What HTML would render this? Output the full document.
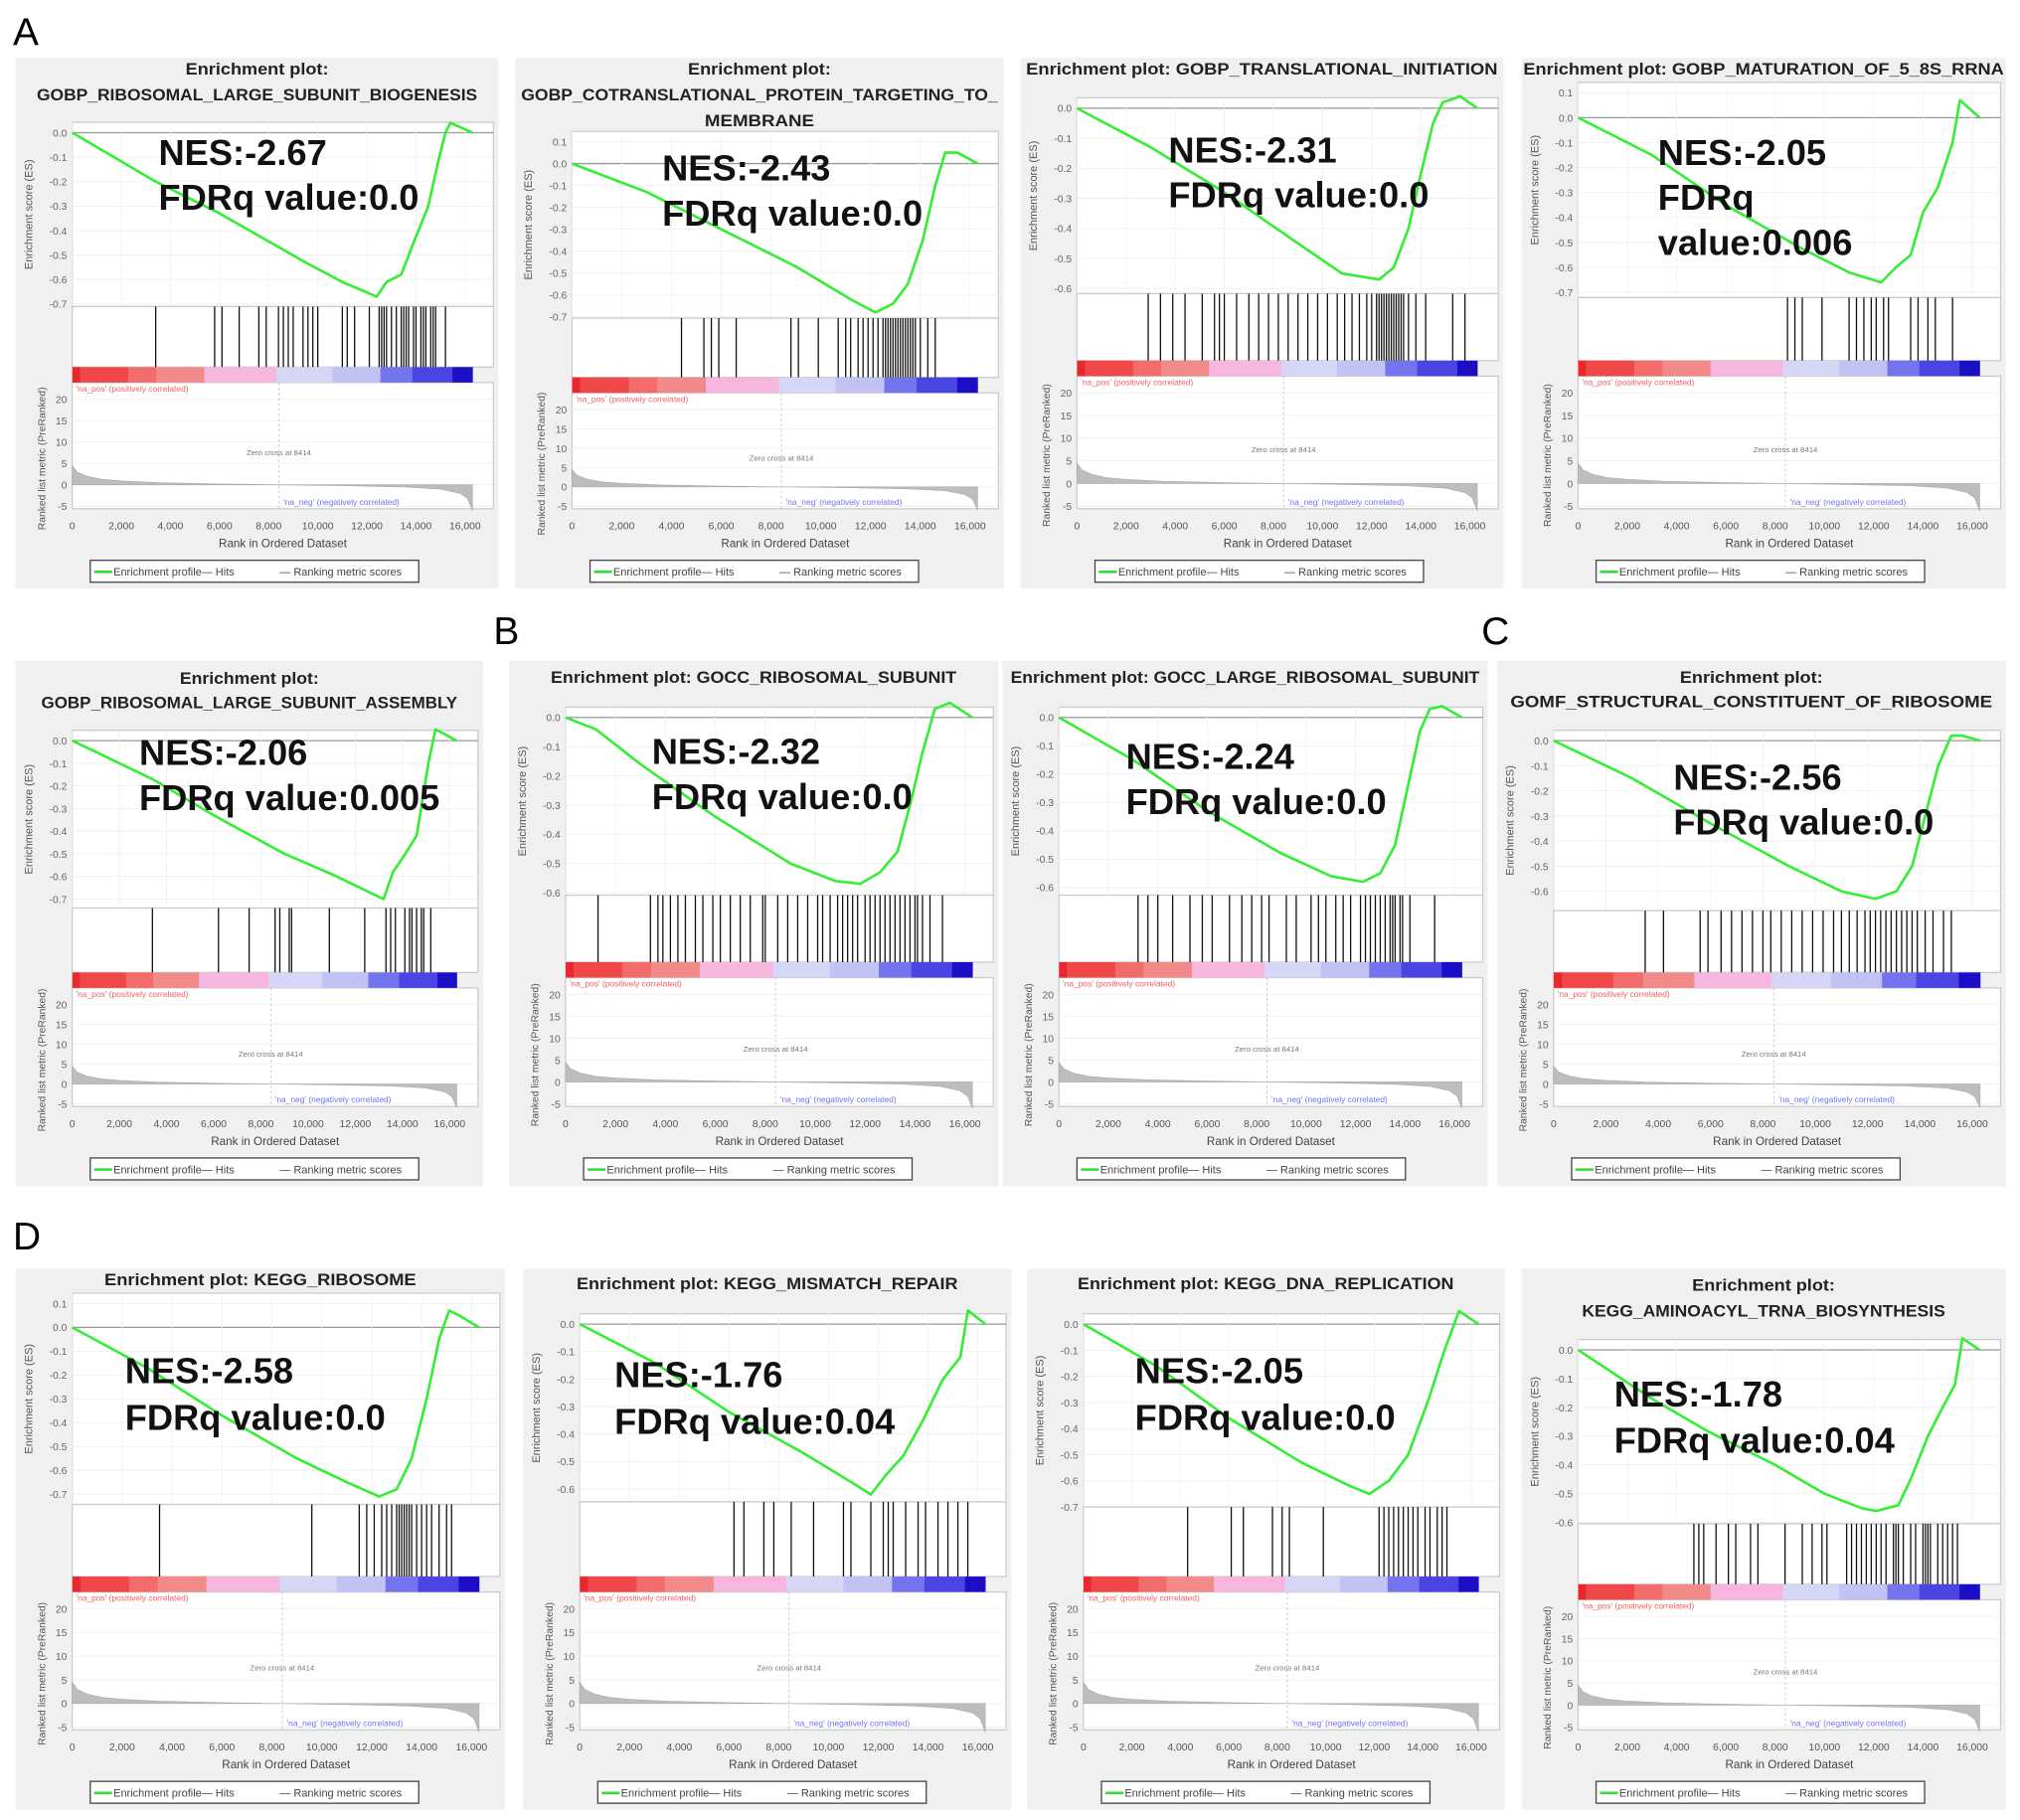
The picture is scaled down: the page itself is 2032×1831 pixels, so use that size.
<!DOCTYPE html>
<html><head><meta charset="utf-8">
<style>
html,body{margin:0;padding:0;background:#fff;}
svg{display:block;}
text{font-family:"Liberation Sans",sans-serif;}
</style></head>
<body>
<svg id="fig" width="2032" height="1831" viewBox="0 0 1568 1413" xmlns="http://www.w3.org/2000/svg">
<rect x="0" y="0" width="1568" height="1413" fill="#fff"/>
<text x="10" y="35" font-size="30">A</text>
<text x="383" y="500" font-size="30">B</text>
<text x="1150" y="500" font-size="30">C</text>
<text x="10" y="970" font-size="30">D</text>
</svg>
<script>
// ---- data ----
const titles = [
 ["Enrichment plot:","GOBP_RIBOSOMAL_LARGE_SUBUNIT_BIOGENESIS"],
 ["Enrichment plot:","GOBP_COTRANSLATIONAL_PROTEIN_TARGETING_TO_","MEMBRANE"],
 ["Enrichment plot: GOBP_TRANSLATIONAL_INITIATION"],
 ["Enrichment plot: GOBP_MATURATION_OF_5_8S_RRNA"],
 ["Enrichment plot:","GOBP_RIBOSOMAL_LARGE_SUBUNIT_ASSEMBLY"],
 ["Enrichment plot: GOCC_RIBOSOMAL_SUBUNIT"],
 ["Enrichment plot: GOCC_LARGE_RIBOSOMAL_SUBUNIT"],
 ["Enrichment plot:","GOMF_STRUCTURAL_CONSTITUENT_OF_RIBOSOME"],
 ["Enrichment plot: KEGG_RIBOSOME"],
 ["Enrichment plot: KEGG_MISMATCH_REPAIR"],
 ["Enrichment plot: KEGG_DNA_REPLICATION"],
 ["Enrichment plot:","KEGG_AMINOACYL_TRNA_BIOSYNTHESIS"]
];
const nesLines = [
 ["NES:-2.67","FDRq value:0.0"],
 ["NES:-2.43","FDRq value:0.0"],
 ["NES:-2.31","FDRq value:0.0"],
 ["NES:-2.05","FDRq","value:0.006"],
 ["NES:-2.06","FDRq value:0.005"],
 ["NES:-2.32","FDRq value:0.0"],
 ["NES:-2.24","FDRq value:0.0"],
 ["NES:-2.56","FDRq value:0.0"],
 ["NES:-2.58","FDRq value:0.0"],
 ["NES:-1.76","FDRq value:0.04"],
 ["NES:-2.05","FDRq value:0.0"],
 ["NES:-1.78","FDRq value:0.04"]
];
// ES curves: [rank (thousands), ES]
const esCurves = [
 [[0,0],[3.4,-0.2],[6,-0.33],[9.5,-0.53],[11,-0.61],[12.4,-0.67],[12.8,-0.61],[13.4,-0.58],[13.9,-0.45],[14.5,-0.3],[14.9,-0.12],[15.2,0],[15.4,0.04],[16.3,0]],
 [[0,0],[3,-0.13],[6,-0.3],[9,-0.47],[11.2,-0.62],[12.2,-0.68],[12.9,-0.64],[13.5,-0.55],[14.1,-0.35],[14.6,-0.1],[15.0,0.05],[15.5,0.05],[16.3,0]],
 [[0,0],[3,-0.13],[6,-0.28],[9,-0.45],[10.8,-0.55],[12.3,-0.57],[12.9,-0.53],[13.5,-0.4],[14.0,-0.22],[14.5,-0.05],[14.9,0.02],[15.3,0.03],[15.6,0.04],[16.3,0]],
 [[0,0],[3,-0.15],[6,-0.35],[9,-0.52],[11,-0.62],[12.3,-0.66],[12.9,-0.6],[13.5,-0.55],[14,-0.38],[14.6,-0.28],[15.2,-0.1],[15.5,0.07],[16.3,0]],
 [[0,0],[3.4,-0.17],[6,-0.33],[9,-0.5],[11,-0.59],[12.4,-0.66],[13.2,-0.7],[13.6,-0.58],[14,-0.52],[14.6,-0.42],[15.1,-0.1],[15.4,0.05],[16.3,0]],
 [[0,0],[1.2,-0.04],[3,-0.16],[6,-0.34],[9,-0.5],[10.8,-0.56],[11.8,-0.57],[12.6,-0.53],[13.3,-0.46],[13.8,-0.3],[14.3,-0.12],[14.8,0.03],[15.4,0.05],[16.3,0]],
 [[0,0],[3,-0.15],[6,-0.33],[9,-0.48],[11,-0.56],[12.3,-0.58],[13,-0.55],[13.6,-0.45],[14.1,-0.25],[14.6,-0.05],[15.0,0.03],[15.5,0.04],[16.3,0]],
 [[0,0],[3,-0.15],[6,-0.33],[9,-0.5],[11,-0.6],[12.3,-0.63],[13.1,-0.6],[13.7,-0.5],[14.2,-0.3],[14.7,-0.1],[15.2,0.02],[15.6,0.02],[16.3,0]],
 [[0,0],[3,-0.17],[6,-0.37],[9,-0.55],[11,-0.65],[12.3,-0.71],[13,-0.68],[13.6,-0.55],[14.2,-0.3],[14.7,-0.05],[15.1,0.07],[15.5,0.05],[16.3,0]],
 [[0,0],[3,-0.14],[6,-0.32],[9,-0.47],[11,-0.58],[11.7,-0.62],[12.3,-0.55],[13,-0.48],[13.8,-0.35],[14.6,-0.2],[15.3,-0.12],[15.6,0.05],[16.3,0]],
 [[0,0],[3,-0.16],[6,-0.36],[9,-0.53],[11,-0.62],[11.8,-0.65],[12.6,-0.6],[13.4,-0.5],[14.2,-0.3],[14.9,-0.1],[15.5,0.05],[16.3,0]],
 [[0,0],[3,-0.17],[5.2,-0.28],[8,-0.4],[10,-0.5],[11.5,-0.55],[12.1,-0.56],[13,-0.54],[13.5,-0.45],[14.2,-0.3],[14.8,-0.2],[15.3,-0.12],[15.6,0.04],[16.3,0]]
];
// hit positions (thousands of ranks)
const hitRanks = [
 [3.4,5.8,6.1,6.8,7.6,7.9,8.4,8.6,8.8,9.0,9.4,9.6,9.8,10.0,11.0,11.2,11.5,12.1,12.5,12.6,12.7,12.8,13.0,13.2,13.4,13.5,13.6,13.7,13.9,14.0,14.2,14.3,14.4,14.6,14.7,14.8,15.2],
 [4.4,5.3,5.6,5.9,6.6,8.8,9.1,9.9,10.7,11.0,11.2,11.5,11.7,11.9,12.1,12.3,12.5,12.6,12.7,12.8,12.9,13.0,13.1,13.2,13.3,13.4,13.5,13.6,13.7,13.8,14.0,14.3,14.6],
 [2.9,3.4,3.9,4.4,5.1,5.6,5.8,6.0,6.5,7.0,7.4,7.8,8.2,8.6,9.0,9.4,9.8,10.2,10.6,10.9,11.2,11.5,11.8,12.0,12.2,12.3,12.4,12.5,12.6,12.7,12.8,12.9,13.0,13.1,13.2,13.3,13.5,13.8,14.2,15.3,15.8],
 [8.5,8.8,9.1,9.9,11.0,11.3,11.6,11.9,12.1,12.4,12.6,13.5,13.8,14.2,14.5,15.2],
 [3.4,6.2,7.5,8.6,8.8,9.2,9.3,10.9,12.4,13.3,13.5,13.7,14.1,14.3,14.4,14.6,14.8,14.9,15.2],
 [1.3,3.4,3.7,3.9,4.2,4.5,4.8,5.2,5.5,5.9,6.2,6.6,7.0,7.4,7.9,8.0,8.5,8.9,9.3,9.7,10.1,10.3,10.6,10.9,11.1,11.3,11.5,11.7,12.0,12.2,12.4,12.6,12.8,13.0,13.2,13.4,13.6,13.8,14.0,14.1,14.3,14.6,15.1],
 [3.2,3.6,4.0,4.6,5.3,5.8,6.2,6.9,7.4,7.8,8.2,8.5,9.2,9.6,10.2,10.5,10.8,11.2,11.5,11.8,12.2,12.4,12.6,12.8,13.0,13.2,13.4,13.5,13.6,13.8,13.9,14.2,15.2],
 [3.5,4.2,5.6,5.9,6.4,6.8,7.2,7.6,8.0,8.3,8.7,9.1,9.5,9.9,10.3,10.7,11.0,11.3,11.6,11.9,12.1,12.3,12.5,12.7,12.9,13.1,13.3,13.5,13.7,13.9,14.2,14.5,14.9,15.2],
 [3.5,9.6,11.5,11.8,12.1,12.4,12.6,12.8,13.0,13.1,13.2,13.3,13.4,13.5,13.6,13.8,14.0,14.2,14.4,14.7,15.0,15.2],
 [6.2,6.6,7.4,7.8,8.5,9.4,10.6,10.9,11.7,12.2,12.4,12.6,13.1,13.6,13.9,14.4,14.8,15.2,15.6],
 [4.3,6.1,6.6,7.8,8.2,8.5,9.9,12.2,12.4,12.6,12.8,13.0,13.2,13.4,13.6,13.8,14.1,14.3,14.6,14.8,15.0],
 [4.7,4.9,5.1,5.6,6.1,6.4,7.0,7.3,8.4,9.1,9.5,9.9,10.1,10.9,11.1,11.3,11.5,11.7,11.9,12.1,12.3,12.5,12.8,12.9,13.0,13.2,13.5,13.7,14.0,14.1,14.2,14.3,14.6,14.8,15.0,15.2,15.4]
];
const metricRanks = [0,0.2,0.6,1.2,2,3.5,6,8.4,11,13.5,15,15.8,16.1,16.3];
const metricValues = [4.5,3,2,1.3,0.9,0.5,0.2,0,-0.2,-0.5,-1,-2,-3.2,-6];
const metricTicks = [20,15,10,5,0,-5];
const rankTicks = [0,2,4,6,8,10,12,14,16];
const rankTickLabels = ["0","2,000","4,000","6,000","8,000","10,000","12,000","14,000","16,000"];

// ---- layout (preview-unit coordinates) ----
const layout = [
 {x:12,y:45,r:387,b:457,tv:0.0,bv:-0.7,ty:103,by:236,eb:238,cb:285,tY:[58,78],tW:[111,342],nx:123,ny:128,ls:35},
 {x:400,y:45,r:779,b:457,tv:0.1,bv:-0.7,ty:110,by:246,eb:247,cb:293,tY:[58,78,98],tW:[111,370,85],nx:514,ny:140,ls:35},
 {x:792,y:45,r:1167,b:457,tv:0.0,bv:-0.6,ty:84,by:224,eb:228,cb:280,tY:[58],tW:[366],nx:907,ny:126,ls:35},
 {x:1181,y:45,r:1557,b:457,tv:0.1,bv:-0.7,ty:72,by:227,eb:231,cb:280,tY:[58],tW:[373],nx:1287,ny:128,ls:35},
 {x:12,y:513,r:375,b:921,tv:0.0,bv:-0.7,ty:575,by:698,eb:705,cb:755,tY:[531,550],tW:[108,323],nx:108,ny:594,ls:35},
 {x:395,y:513,r:775,b:921,tv:0.0,bv:-0.6,ty:557,by:693,eb:695,cb:747,tY:[530],tW:[315],nx:506,ny:593,ls:35},
 {x:778,y:513,r:1155,b:921,tv:0.0,bv:-0.6,ty:557,by:689,eb:695,cb:747,tY:[530],tW:[364],nx:874,ny:597,ls:35},
 {x:1162,y:513,r:1557,b:921,tv:0.0,bv:-0.6,ty:575,by:692,eb:707,cb:755,tY:[530,549],tW:[111,374],nx:1299,ny:613,ls:35},
 {x:12,y:985,r:392,b:1405,tv:0.1,bv:-0.7,ty:1012,by:1160,eb:1168,cb:1224,tY:[998],tW:[242],nx:97,ny:1074,ls:36},
 {x:406,y:985,r:785,b:1405,tv:0.0,bv:-0.6,ty:1028,by:1156,eb:1166,cb:1224,tY:[1001],tW:[296],nx:477,ny:1077,ls:36},
 {x:797,y:985,r:1168,b:1405,tv:0.0,bv:-0.7,ty:1028,by:1170,eb:1170,cb:1224,tY:[1001],tW:[292],nx:881,ny:1074,ls:36},
 {x:1181,y:985,r:1557,b:1405,tv:0.0,bv:-0.6,ty:1048,by:1182,eb:1183,cb:1230,tY:[1002,1022],tW:[111,282],nx:1253,ny:1092,ls:36}
];
const barStops = [0,0.02,0.14,0.21,0.33,0.51,0.65,0.77,0.85,0.95,1];
const barColors = ["#e8282c","#f04848","#f26c6c","#f28a8a","#f6b6de","#d6d6f6","#c2c2f4","#7474ee","#4a44e2","#1c0ec6"];

const NS = "http://www.w3.org/2000/svg";
const svg = document.getElementById('fig');
function mk(parent, tag, attrs, txt){
  const e = document.createElementNS(NS, tag);
  for (const k in attrs) e.setAttribute(k, attrs[k]);
  if (txt !== undefined) e.textContent = txt;
  parent.appendChild(e);
  return e;
}

layout.forEach((L, i) => {
  const g = mk(svg, 'g', {});
  
  
  const bg = mk(g, 'rect', {x:L.x, y:L.y, width:L.r-L.x, height:L.b-L.y, fill:'#f0f0f0'});
  
  
  titles[i].forEach((t, k) => {
    const te = mk(g, 'text', {x:(L.x+L.r)/2, y:L.tY[k], 'font-size':13, 'font-weight':'bold', 'text-anchor':'middle', fill:'#222', textLength:L.tW[k], lengthAdjust:'spacingAndGlyphs'}, t);
    
    
  });
  const x0 = L.x + 44, x16 = L.r - 26, fr = L.r - 4;
  const xs = r => x0 + (x16 - x0) * r / 16;
  const ys = v => L.ty + (L.by - L.ty) * (L.tv - v) / (L.tv - L.bv);
  const esTop = ys(L.tv) - 8, esB = L.eb;
  const fr1 = mk(g, 'rect', {x:x0, y:esTop, width:fr-x0, height:esB-esTop, fill:'#fff', stroke:'#ccc', 'stroke-width':1});
  
  
  for (let v = Math.round(L.tv*10); v >= Math.round(L.bv*10); v--) {
    const val = v/10, y = ys(val);
    const gl = mk(g, 'line', {x1:x0, x2:fr, y1:y, y2:y, stroke: v===0 ? '#999' : '#eee', 'stroke-width':v===0?1:0.6});
    
    
    const tl = mk(g, 'text', {x:x0-4, y:y+3, 'font-size':8, 'text-anchor':'end', fill:'#666'}, val.toFixed(1).replace('-0.0','0.0'));
    
    
  }
  for (let r of rankTicks) {
    const vl = mk(g, 'line', {x1:xs(r), x2:xs(r), y1:esTop, y2:esB, stroke:'#f0f0f0', 'stroke-width':0.6});
    
    
  }
  const ya = mk(g, 'text', {x:0, y:0, 'font-size':8.5, 'text-anchor':'middle', fill:'#555', transform:`translate(${L.x+13},${(esTop+esB)/2}) rotate(-90)`}, 'Enrichment score (ES)');
  
  
  const hb = L.cb;
  const hr = mk(g, 'rect', {x:x0, y:esB, width:fr-x0, height:hb-esB, fill:'#fff', stroke:'#ccc', 'stroke-width':1});
  
  
  hitRanks[i].forEach(r => {
    const h = mk(g, 'line', {x1:xs(r), x2:xs(r), y1:esB, y2:hb, stroke:'#111', 'stroke-width':1});
    
    
  });
  const cb = hb, ce = hb + 12;
  const mTop = ce, mBot = L.b - 62;
  const mr = mk(g, 'rect', {x:x0, y:mTop, width:fr-x0, height:mBot-mTop, fill:'#fff', stroke:'#ccc', 'stroke-width':1});
  
  
  for (let k = 0; k < barColors.length; k++) {
    const a = xs(16.3*barStops[k]), b = xs(16.3*barStops[k+1]);
    const s = mk(g, 'rect', {x:a, y:cb, width:b-a+0.3, height:ce-cb, fill:barColors[k]});
    
    
  }
  const y20 = ce + 13, ym5 = L.b - 64;
  const my = v => y20 + (20 - v) * (ym5 - y20) / 25;
  metricTicks.forEach(v => {
    const gl = mk(g, 'line', {x1:x0, x2:fr, y1:my(v), y2:my(v), stroke:'#eee', 'stroke-width':0.6});
    
    
    const t = mk(g, 'text', {x:x0-4, y:my(v)+3, 'font-size':8, 'text-anchor':'end', fill:'#666'}, String(v));
    
    
  });
  let d = `M${xs(0)},${my(0)}`;
  metricRanks.forEach((r, k) => { d += ` L${xs(r)},${my(metricValues[k])}`; });
  d += ` L${xs(16.3)},${my(0)} Z`;
  const ma = mk(g, 'path', {d:d, fill:'#bdbdbd', stroke:'#aaa', 'stroke-width':0.5});
  
  
  const zl = mk(g, 'line', {x1:xs(8.414), x2:xs(8.414), y1:mTop, y2:mBot, stroke:'#bbb', 'stroke-width':0.6, 'stroke-dasharray':'2,2'});
  
  
  const zt = mk(g, 'text', {x:xs(8.414), y:(y20+ym5)/2+2, 'font-size':6, 'text-anchor':'middle', fill:'#777'}, 'Zero cross at 8414');
  
  
  const np = mk(g, 'text', {x:x0+3, y:ce+7, 'font-size':6.5, fill:'#f06060'}, "'na_pos' (positively correlated)");
  
  
  const nn = mk(g, 'text', {x:xs(8.6), y:mBot-3, 'font-size':6.5, fill:'#7070f0'}, "'na_neg' (negatively correlated)");
  
  
  const my2 = mk(g, 'text', {x:0, y:0, 'font-size':8, 'text-anchor':'middle', fill:'#555', transform:`translate(${L.x+23},${(mTop+mBot+20)/2}) rotate(-90)`}, 'Ranked list metric (PreRanked)');
  
  
  rankTicks.forEach((r, k) => {
    const t = mk(g, 'text', {x:xs(r), y:L.b-46, 'font-size':8, 'text-anchor':'middle', fill:'#555'}, rankTickLabels[k]);
    
    
  });
  const xt = mk(g, 'text', {x:(x0+fr)/2, y:L.b-32, 'font-size':9, 'text-anchor':'middle', fill:'#444'}, 'Rank in Ordered Dataset');
  
  
  const lx = L.x + 58, lw = 255, ly = L.b - 22;
  const lg = mk(g, 'rect', {x:lx, y:ly, width:lw, height:17, fill:'#fff', stroke:'#444', 'stroke-width':1});
  
  
  const ll = mk(g, 'line', {x1:lx+3, x2:lx+17, y1:ly+9, y2:ly+9, stroke:'#33dd33', 'stroke-width':2});
  
  
  const lt1 = mk(g, 'text', {x:lx+18, y:ly+12, 'font-size':8.5, fill:'#444'}, 'Enrichment profile— Hits');
  
  
  const lt2 = mk(g, 'text', {x:lx+147, y:ly+12, 'font-size':8.5, fill:'#444'}, '— Ranking metric scores');
  
  
  const pts = esCurves[i].map(p => `${xs(p[0])},${ys(p[1])}`).join(' ');
  const pl = mk(g, 'polyline', {points:pts, fill:'none', stroke:'#33ee33', 'stroke-width':2, 'stroke-linejoin':'round'});
  
  
  nesLines[i].forEach((t, k) => {
    const nt = mk(g, 'text', {x:L.nx, y:L.ny + k*L.ls, 'font-size':28, 'font-weight':'bold', fill:'#111'}, t);
    
    
  });
});
</script>
</body></html>
